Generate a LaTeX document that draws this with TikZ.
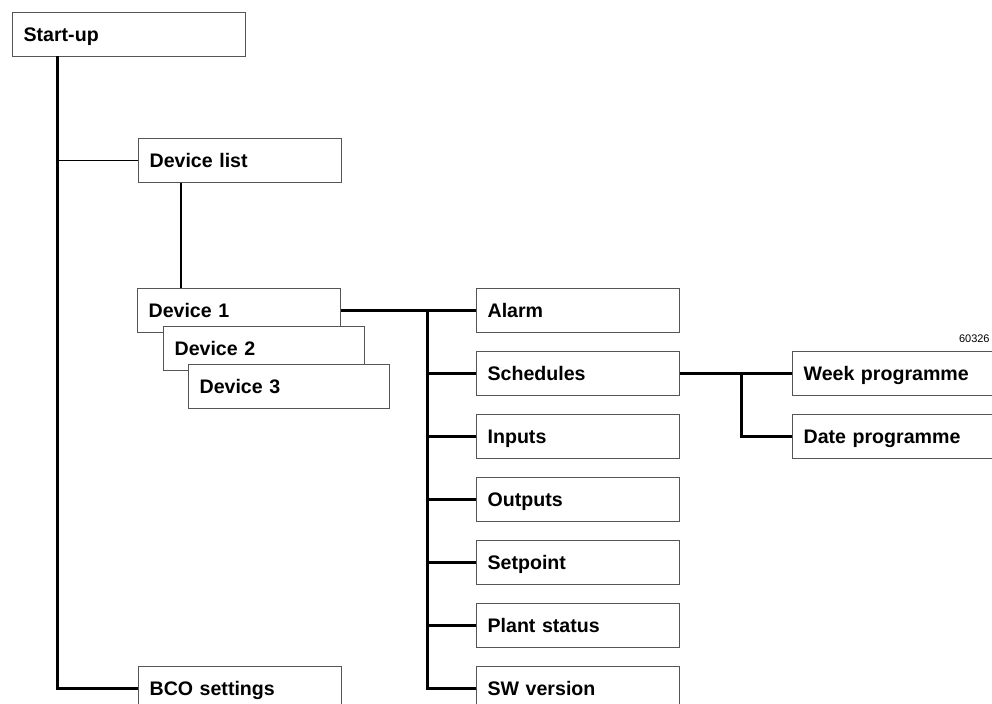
\documentclass[tikz,border=0pt]{standalone}
\usepackage{fontspec}
\setmainfont{Liberation Sans}
\usepackage{tikz}
\usetikzlibrary{positioning, calc}
\definecolor{box-gray}{HTML}{555555}

\begin{document}
\begin{tikzpicture}[x=0.5pt, y=-0.5pt,
    menubox/.style={draw=box-gray, line width=0.6pt, fill=white, anchor=north west,
        minimum height=22pt, inner xsep=5.5pt, text width=#1, align=left,
        text height=7pt, text depth=0pt, font=\bfseries\fontsize{9.8}{12}\selectfont},
    menubox/.default=90.5pt,
    mainline/.style={line width=1.5pt},
    subline/.style={line width=0.7pt}]
    \clip (0,0) rectangle (992,704);

    % Boxes
    \node[menubox=105.5pt] (startup) at (12,12) {Start-up};
    \node[menubox] (devlist) at (138,138) {Device list};
    \node[menubox] (dev1) at (137,288) {Device 1};
    \node[menubox=89.5pt] (dev2) at (163,326) {Device 2};
    \node[menubox=89.5pt] (dev3) at (188,364) {Device 3};
    \node[menubox] (bco) at (138,666) {BCO settings};

    \foreach \n/\y/\txt in {alarm/288/Alarm, sched/351/Schedules, inputs/414/Inputs,
        outputs/477/Outputs, setpt/540/Setpoint, plant/603/Plant status, swver/666/SW version}
        \node[menubox] (\n) at (476,\y) {\txt};

    \node[menubox=110pt] (week) at (792,351) {Week programme};
    \node[menubox=110pt] (date) at (792,414) {Date programme};

    % Drawing number
    \node[anchor=south east, inner sep=0pt, font=\fontsize{5.5}{6}\selectfont] (num) at (990,343) {60326};

    % Start-up trunk
    \coordinate (trunkA) at (57,56);
    \draw[mainline] (trunkA) |- (bco.west);
    \draw[subline] (trunkA |- devlist.west) -- (devlist.west);
    \draw[subline] ($(devlist.south west)+(43,0)$) -- ($(dev1.north west)+(44,0)$);

    % Device menu
    \coordinate (trunkB) at (427,310);
    \draw[mainline] (dev1.east) -- (alarm.west);
    \draw[mainline] (trunkB) |- (swver.west);
    \foreach \n in {sched, inputs, outputs, setpt, plant}
        \draw[mainline] (trunkB |- \n.west) -- (\n.west);

    % Schedules
    \coordinate (trunkC) at (741,373);
    \draw[mainline] (sched.east) -- (week.west);
    \draw[mainline] (trunkC) |- (date.west);
\end{tikzpicture}
\end{document}
